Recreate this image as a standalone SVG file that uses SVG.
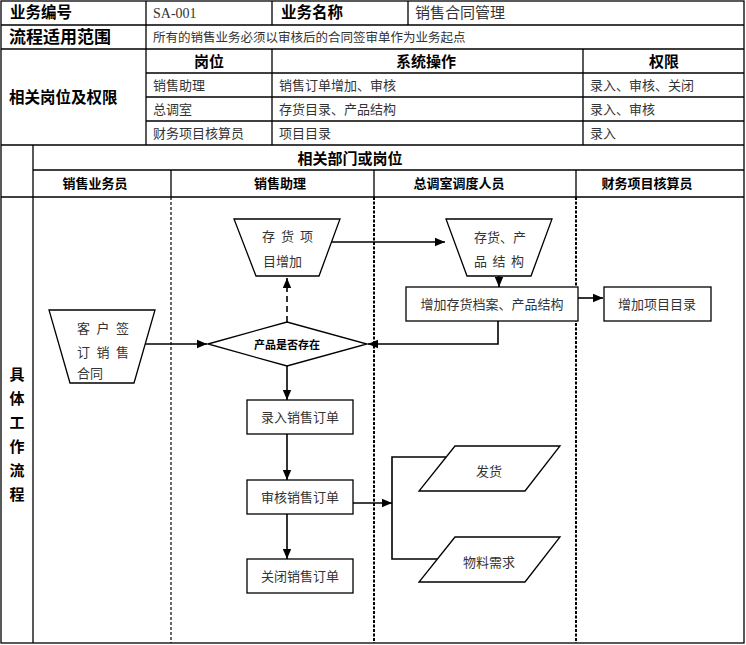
<svg xmlns="http://www.w3.org/2000/svg" width="746" height="645" viewBox="0 0 746 645">
<style>
.grid{stroke:#000;stroke-width:1.3;fill:none}
.lane{stroke:#000;stroke-width:1.2;fill:none;stroke-dasharray:3 2}
.lane2{stroke:#000;stroke-width:2;fill:none;stroke-dasharray:3 1.5}
.hd{font-family:"Noto Sans CJK SC","Liberation Sans",sans-serif;font-weight:bold;fill:#000}
.tx{font-family:"Liberation Serif","Noto Sans CJK SC",serif;fill:#333}
.shape{fill:#fff;stroke:#000;stroke-width:1.3}
.conn{stroke:#000;stroke-width:1.6;fill:none}
.nt{font-family:"Liberation Serif","Noto Sans CJK SC",serif;font-size:13px;fill:#333}
</style>
<defs>
<marker id="ah" markerUnits="userSpaceOnUse" markerWidth="10" markerHeight="10" refX="10" refY="5" orient="auto">
<path d="M0,0.8 L10,5 L0,9.2 z" fill="#000"/>
</marker>
</defs>
<rect width="746" height="645" fill="#fff"/>
<g id="table">
<rect x="1" y="1" width="743" height="642" class="grid"/>
<path class="grid" d="M1,25H744M1,49H744M146,73H744M146,97H744M146,121H744M1,145H744M33,170H744M1,197H744"/>
<path class="grid" d="M146,1V49M272,1V25M408,1V25M272,49V145M583,49V145M146,49V145M33,145V643M171,170V197M374,170V197M576,170V197"/>
<path class="lane" d="M171,197V643"/>
<path class="lane2" d="M374,197V643M576,197V643"/>
<text class="hd" x="10" y="18" font-size="15.5">业务编号</text>
<text class="tx" x="153" y="18" font-size="14">SA-001</text>
<text class="hd" x="281" y="18" font-size="15.5">业务名称</text>
<text class="tx" x="415" y="18" font-size="15">销售合同管理</text>
<text class="hd" x="9" y="43" font-size="17">流程适用范围</text>
<text class="tx" x="153" y="42" font-size="12.5">所有的销售业务必须以审核后的合同签审单作为业务起点</text>
<text class="hd" x="209" y="67" font-size="15" text-anchor="middle">岗位</text>
<text class="hd" x="426" y="67" font-size="15" text-anchor="middle">系统操作</text>
<text class="hd" x="664" y="67" font-size="15" text-anchor="middle">权限</text>
<text class="hd" x="9" y="103" font-size="15.5">相关岗位及权限</text>
<text class="tx" x="153" y="90" font-size="13">销售助理</text>
<text class="tx" x="279" y="90" font-size="13">销售订单增加、审核</text>
<text class="tx" x="590" y="90" font-size="13">录入、审核、关闭</text>
<text class="tx" x="153" y="114" font-size="13">总调室</text>
<text class="tx" x="279" y="114" font-size="13">存货目录、产品结构</text>
<text class="tx" x="590" y="114" font-size="13">录入、审核</text>
<text class="tx" x="153" y="138" font-size="13">财务项目核算员</text>
<text class="tx" x="279" y="138" font-size="13">项目目录</text>
<text class="tx" x="590" y="138" font-size="13">录入</text>
<text class="hd" x="350" y="164" font-size="15" text-anchor="middle">相关部门或岗位</text>
<text class="hd" x="95" y="188" font-size="13" text-anchor="middle">销售业务员</text>
<text class="hd" x="280" y="188" font-size="13" text-anchor="middle">销售助理</text>
<text class="hd" x="459" y="188" font-size="13" text-anchor="middle">总调室调度人员</text>
<text class="hd" x="647" y="188" font-size="13" text-anchor="middle">财务项目核算员</text>
<g class="hd" font-size="15" text-anchor="middle">
<text x="17" y="380">具</text>
<text x="17" y="404">体</text>
<text x="17" y="428">工</text>
<text x="17" y="452">作</text>
<text x="17" y="476">流</text>
<text x="17" y="500">程</text>
</g>
</g>
<g id="connectors">
<path class="conn" d="M142,344H207" marker-end="url(#ah)"/>
<path class="conn" d="M287,322V278" stroke-dasharray="6 4" marker-end="url(#ah)"/>
<path class="conn" d="M331,242H445" marker-end="url(#ah)"/>
<path class="conn" d="M499,276V287" marker-end="url(#ah)"/>
<path class="conn" d="M578,298H603" marker-end="url(#ah)"/>
<path class="conn" d="M498,321V344H368" marker-end="url(#ah)"/>
<path class="conn" d="M287,366V400" marker-end="url(#ah)"/>
<path class="conn" d="M287,434V480" marker-end="url(#ah)"/>
<path class="conn" d="M287,514V559" marker-end="url(#ah)"/>
<path class="conn" d="M353,503H392" marker-end="url(#ah)"/>
<path class="conn" d="M446,457H392V559H437"/>
</g>
<g id="customer-contract">
<path class="shape" d="M49,310H155L134,383H70Z"/>
<text class="nt"><tspan x="77" y="333">客</tspan><tspan x="96.5" y="333">户</tspan><tspan x="116" y="333">签</tspan></text>
<text class="nt"><tspan x="77" y="357">订</tspan><tspan x="96.5" y="357">销</tspan><tspan x="116" y="357">售</tspan></text>
<text class="nt" x="77" y="378">合同</text>
</g>
<g id="inventory-add">
<path class="shape" d="M234,219H340L319,276H256Z"/>
<text class="nt"><tspan x="262" y="241">存</tspan><tspan x="281" y="241">货</tspan><tspan x="300" y="241">项</tspan></text>
<text class="nt" x="263" y="266">目增加</text>
</g>
<g id="inventory-structure">
<path class="shape" d="M446,219H552L531,276H467Z"/>
<text class="nt" x="474" y="242">存货、产</text>
<text class="nt"><tspan x="474" y="266">品</tspan><tspan x="492.5" y="266">结</tspan><tspan x="511" y="266">构</tspan></text>
</g>
<g id="decision">
<path class="shape" d="M208,344L287,322L367,344L287,366Z"/>
<text class="hd" x="287" y="348.5" font-size="11" text-anchor="middle">产品是否存在</text>
</g>
<g id="add-archive">
<rect class="shape" x="406" y="287" width="172" height="34"/>
<text class="nt" x="492" y="309" text-anchor="middle">增加存货档案、产品结构</text>
</g>
<g id="add-project">
<rect class="shape" x="604" y="287" width="107" height="34"/>
<text class="nt" x="657" y="309" text-anchor="middle">增加项目目录</text>
</g>
<g id="enter-order">
<rect class="shape" x="247" y="400" width="106" height="34"/>
<text class="nt" x="300" y="422" text-anchor="middle">录入销售订单</text>
</g>
<g id="audit-order">
<rect class="shape" x="247" y="480" width="106" height="34"/>
<text class="nt" x="300" y="502" text-anchor="middle">审核销售订单</text>
</g>
<g id="close-order">
<rect class="shape" x="247" y="559" width="106" height="34"/>
<text class="nt" x="300" y="581" text-anchor="middle">关闭销售订单</text>
</g>
<g id="shipping">
<path class="shape" d="M455,446H560L525,491H419Z"/>
<text class="nt" x="489" y="476" text-anchor="middle">发货</text>
</g>
<g id="material-demand">
<path class="shape" d="M455,537H560L525,582H419Z"/>
<text class="nt" x="489" y="567" text-anchor="middle">物料需求</text>
</g>
</svg>
